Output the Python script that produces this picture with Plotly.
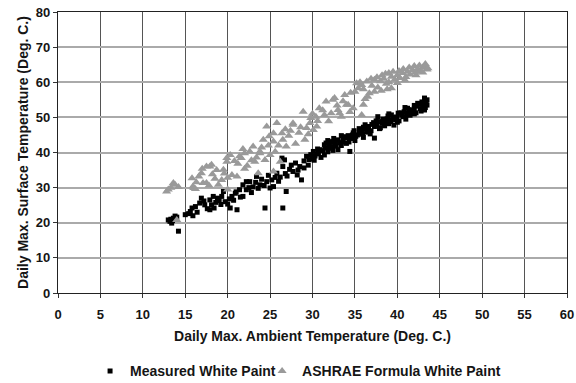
import plotly.graph_objects as go

measured_x = [13.0, 13.2, 13.4, 13.6, 13.8, 14.0, 13.3, 14.2,
              15.0, 15.6, 15.8, 15.9, 16.2, 16.7, 16.9, 17.3, 17.6, 17.9, 17.9, 18.1, 18.3, 18.4, 18.6,
              19.0, 19.3, 19.5, 19.7, 20.0, 20.3, 20.5, 20.7, 20.9, 21.1, 21.4, 21.5, 21.8, 21.8, 22.2,
              22.2, 22.6, 22.8, 23.0, 23.4, 23.6, 23.8, 24.0, 24.4, 24.6, 24.8, 25.0, 25.4, 25.6, 25.8,
              26.0, 26.4, 26.5, 26.5, 26.7, 26.9, 27.0, 27.3, 27.7, 28.0, 28.2, 28.5, 28.7, 29.0, 29.3,
              29.5, 29.8, 30.1, 30.2, 30.5, 30.9, 31.0, 31.4, 31.4, 31.6, 31.9, 32.2, 32.4, 32.6, 33.0,
              33.0, 33.4, 33.8, 34.0, 34.4, 34.6, 34.8, 35.0, 35.3, 35.8, 36.0, 36.2, 36.5, 36.8, 37.0,
              37.3, 37.3, 37.5, 37.7, 37.9, 38.2, 38.5, 38.8, 39.0, 39.3, 39.3, 39.6, 39.9, 40.2, 40.4,
              40.7, 41.0, 41.2, 41.2, 41.5, 41.8, 42.0, 42.2, 42.4, 42.7, 43.0, 43.2, 43.2, 43.4, 43.5,
              30.6, 31.8, 32.8, 33.6, 34.2, 35.5, 36.4, 38.0, 40.0, 42.0,
              30.0, 30.3, 30.7, 31.2, 31.5, 32.0, 32.3, 32.7, 33.2, 33.6, 34.1, 34.3, 34.7, 35.1, 35.5,
              35.9, 36.3, 36.6, 36.9, 37.2, 37.6, 38.0, 38.3, 38.6, 38.9, 39.2, 39.5, 39.8, 40.1, 40.5,
              40.8, 41.1, 41.4, 41.7, 42.0, 42.3, 42.6, 42.9, 43.1, 43.3, 43.5, 42.8, 40.9, 39.0, 36.0,
              34.9, 33.4, 32.5, 31.8, 29.6, 29.0, 28.3, 27.5, 26.8, 26.2, 25.2, 24.3, 23.3, 22.5, 21.0,
              20.2, 19.2, 18.8, 17.2, 16.4, 15.4, 13.5, 13.9]
measured_y = [20.8, 20.4, 19.9, 21.3, 21.9, 21.6, 21.0, 17.6,
              22.3, 23.2, 24.2, 22.0, 24.6, 25.6, 27.0, 25.1, 24.0, 26.5, 23.7, 25.1, 27.5, 24.2, 25.8,
              26.3, 27.5, 28.9, 26.0, 25.3, 24.2, 27.5, 26.4, 28.4, 23.7, 29.4, 27.3, 30.8, 27.5, 31.7,
              29.4, 31.7, 28.6, 30.2, 33.2, 29.8, 30.8, 32.4, 24.2, 31.7, 33.5, 29.9, 30.3, 32.9, 34.1,
              31.8, 38.4, 24.2, 36.0, 37.9, 28.9, 33.3, 35.2, 34.6, 37.0, 33.6, 36.0, 32.2, 37.6, 38.9,
              36.4, 39.4, 40.3, 37.8, 39.6, 40.8, 38.6, 42.2, 39.3, 42.7, 41.2, 43.1, 40.6, 42.3, 40.8,
              43.6, 42.0, 44.5, 42.6, 40.3, 44.0, 45.6, 43.4, 45.0, 46.0, 44.3, 47.9, 46.4, 45.3, 48.0,
              47.4, 44.1, 49.0, 50.2, 46.8, 48.3, 47.6, 49.6, 48.2, 49.3, 50.7, 47.8, 50.1, 49.0, 51.3,
              50.2, 49.5, 51.2, 52.6, 50.6, 52.0, 53.4, 51.3, 54.0, 52.5, 53.0, 55.5, 52.1, 54.3, 53.5,
              41.0, 40.2, 41.8, 43.0, 44.8, 46.8, 45.8, 47.0, 48.6, 51.0,
              38.2, 39.0, 40.0, 40.5, 41.3, 42.0, 41.6, 43.0, 42.8, 43.6, 44.2, 43.0, 45.0, 44.6, 45.6,
              45.2, 46.6, 47.4, 46.2, 48.5, 47.8, 48.8, 49.5, 48.6, 50.4, 48.8, 50.0, 49.4, 51.2, 50.6,
              51.6, 50.8, 52.2, 51.4, 52.4, 53.2, 53.8, 54.4, 53.8, 52.8, 55.0, 51.8, 52.8, 51.0, 47.2,
              46.2, 44.8, 44.0, 43.4, 38.0, 35.6, 35.0, 36.4, 34.0, 33.0, 32.2, 30.6, 31.5, 30.0, 28.8,
              26.8, 25.2, 27.0, 26.2, 23.0, 22.6, 20.6, 21.0]

ashrae_x = [12.8, 13.0, 13.6, 13.8, 14.0, 15.8, 15.9, 16.0, 16.3, 16.9, 17.1, 17.5, 17.5, 17.9,
            18.1, 18.5, 18.9, 19.3, 19.5, 19.9, 19.9, 20.0, 20.3, 20.5, 21.1, 21.4, 21.6, 22.0, 22.3,
            22.6, 23.0, 23.2, 23.6, 23.8, 23.8, 24.2, 24.4, 24.6, 24.8, 25.0, 25.4, 25.4, 25.4, 25.8,
            26.2, 26.4, 26.5, 26.9, 27.2, 27.7, 27.7, 28.0, 28.4, 28.9, 29.1, 29.3, 29.7, 30.1, 30.4,
            30.5, 30.8, 31.4, 31.6, 31.9, 32.2, 32.4, 32.6, 33.0, 33.2, 33.4, 33.8, 34.0, 34.2, 34.5,
            34.8, 35.0, 35.2, 35.4, 35.8, 35.8, 36.2, 36.5, 36.7, 37.0, 37.3, 37.3, 37.7, 38.0, 38.4,
            38.7, 39.0, 39.3, 39.3, 39.7, 40.0, 40.3, 40.6, 41.0, 41.2, 41.5, 41.8, 42.1, 42.4, 42.7,
            43.0, 43.2, 43.5, 43.6,
            35.6, 36.0, 36.4, 36.9, 37.6, 38.2, 38.6, 39.0, 39.5, 40.2, 40.7, 41.4, 42.0, 42.6, 43.3,
            43.0, 42.2, 40.9, 40.0, 38.8, 38.1, 36.0, 34.4, 33.6, 32.9, 31.2, 30.6, 30.0, 29.5, 29.8,
            28.6, 27.4, 26.8, 26.0, 25.6, 24.9, 24.0, 23.4, 22.8, 22.0, 21.8, 21.2, 20.8, 20.0, 19.6,
            18.7, 18.2, 17.8, 17.0, 16.6, 16.2, 14.2, 13.3]
ashrae_y = [28.9, 29.5, 31.3, 30.8, 20.8, 32.7, 30.3, 29.9, 31.5, 34.1, 31.3, 36.0, 31.3, 36.0,
            36.5, 32.5, 30.8, 32.2, 35.1, 37.4, 38.4, 29.5, 39.3, 33.6, 33.2, 38.9, 38.4, 39.8, 36.2,
            40.3, 41.7, 37.4, 34.1, 39.8, 40.3, 43.6, 37.9, 47.4, 42.0, 39.3, 45.5, 43.1, 34.6, 48.4,
            37.4, 45.5, 43.6, 41.7, 44.8, 48.3, 47.9, 42.5, 45.6, 51.6, 43.6, 47.0, 48.4, 46.4, 50.2,
            47.4, 52.6, 50.7, 54.5, 48.9, 51.2, 55.0, 55.5, 52.1, 51.2, 50.2, 56.4, 53.6, 53.6, 57.0,
            52.6, 57.3, 59.7, 58.3, 59.2, 50.7, 55.2, 55.9, 56.9, 59.0, 60.7, 57.3, 58.5, 60.3, 61.0,
            59.6, 60.0, 61.6, 58.3, 60.8, 62.0, 61.2, 62.6, 61.5, 63.0, 62.2, 63.5, 62.8, 63.8, 63.2,
            64.2, 64.4, 63.6, 64.0,
            60.0, 58.0, 60.2, 61.0, 61.4, 62.0, 62.4, 62.6, 63.0, 63.2, 63.8, 64.2, 64.6, 64.8, 65.2,
            62.8, 62.0, 60.6, 59.8, 58.0, 57.6, 53.6, 51.5, 54.6, 53.4, 52.0, 49.0, 51.0, 45.2, 49.8,
            47.2, 46.2, 46.6, 42.0, 40.2, 44.6, 41.4, 38.6, 37.8, 35.4, 41.0, 36.8, 37.6, 32.8, 34.0,
            35.0, 33.8, 30.6, 35.4, 33.2, 29.6, 30.2, 30.0]

x_ticks = list(range(0, 61, 5))
y_ticks = list(range(0, 81, 10))

FONT = "Liberation Sans"
TXT = "#151515"
LEG_FONT = dict(family=FONT, size=14, weight="bold", color=TXT)

fig = go.Figure()
fig.add_trace(go.Scatter(
    x=measured_x, y=measured_y, mode="markers", name="Measured White Paint",
    marker=dict(symbol="square", size=5, color="black", line=dict(width=0)),
    legend="legend",
))
fig.add_trace(go.Scatter(
    x=ashrae_x, y=ashrae_y, mode="markers", name="ASHRAE Formula White Paint",
    marker=dict(symbol="triangle-up", size=8, color="#9a9a9a", line=dict(width=0)),
    legend="legend2",
))

fig.update_layout(
    width=576, height=383,
    margin=dict(l=58, r=9, t=12, b=90, autoexpand=False),
    paper_bgcolor="white", plot_bgcolor="white",
    font=dict(family=FONT, size=12, color=TXT),
    showlegend=True,
    legend=dict(orientation="h", x=0.063, xanchor="left", y=-0.279, yanchor="middle",
                font=LEG_FONT, itemsizing="trace", itemwidth=30, bgcolor="rgba(0,0,0,0)"),
    legend2=dict(orientation="h", x=0.401, xanchor="left", y=-0.279, yanchor="middle",
                 font=LEG_FONT, itemsizing="trace", itemwidth=30, bgcolor="rgba(0,0,0,0)"),
)
fig.update_xaxes(
    range=[0, 60], tickvals=x_ticks, ticks="outside", ticklen=4, tickcolor="#333",
    ticklabelstandoff=5,
    tickfont=dict(family=FONT, size=13, weight="bold", color=TXT),
    showgrid=True, gridcolor="#555", gridwidth=1.3,
    showline=True, linecolor="#222", linewidth=1.3, mirror=True,
    zeroline=False,
    title=dict(text="Daily Max. Ambient Temperature (Deg. C.)",
               font=dict(family=FONT, size=14, weight="bold", color=TXT), standoff=10),
)
fig.update_yaxes(
    range=[0, 80], tickvals=y_ticks, ticks="outside", ticklen=4, tickcolor="#333",
    tickfont=dict(family=FONT, size=13, weight="bold", color=TXT),
    showgrid=True, gridcolor="#aaaaaa", gridwidth=2,
    showline=True, linecolor="#222", linewidth=1.3, mirror=True,
    zeroline=False,
    title=dict(text="Daily Max. Surface Temperature (Deg. C.)",
               font=dict(family=FONT, size=14, weight="bold", color=TXT), standoff=3),
)

fig.write_html("out.html")
